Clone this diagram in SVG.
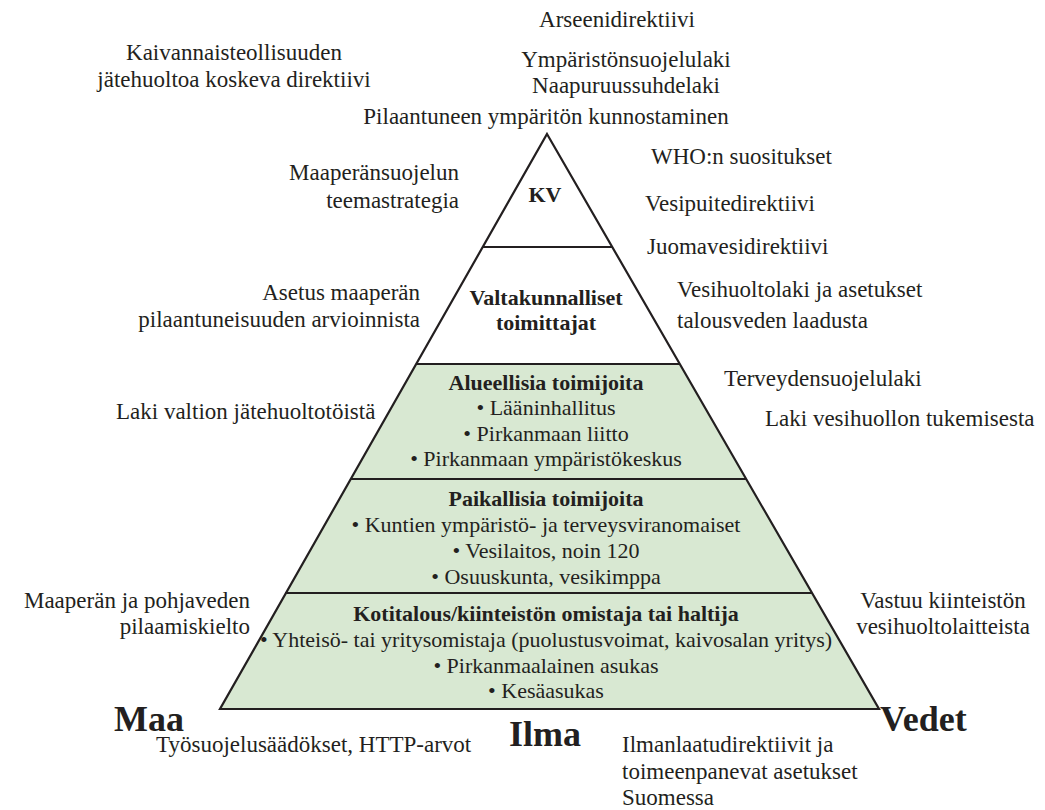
<svg xmlns="http://www.w3.org/2000/svg" width="1045" height="810" viewBox="0 0 1045 810">
<style>
text{font-family:"Liberation Serif","Times New Roman",serif;fill:#231f20}
.l{font-size:23px}
.m{text-anchor:middle}
.e{text-anchor:end}
.b{font-weight:bold}
.i{font-size:22px}
.big{font-size:36px;font-weight:bold}
.edge{stroke:#231f20;stroke-width:2.2;fill:none}
</style>
<rect width="1045" height="810" fill="#ffffff"/>
<g id="pyramid">
<polygon points="416,364 680,364 879,709 220,709" fill="#d8e8d2"/>
<polygon class="edge" points="547,134 879,709 220,709"/>
</g>
<g id="connectors">
<line class="edge" x1="482" y1="247" x2="612" y2="247"/>
<line class="edge" x1="416" y1="364" x2="680" y2="364"/>
<line class="edge" x1="350" y1="479" x2="746" y2="479"/>
<line class="edge" x1="285" y1="593" x2="812" y2="593"/>
</g>
<g id="level-kv"><text class="i m b" x="545" y="202">KV</text></g>
<g id="level-valtakunnalliset">
<text class="i m b" x="546" y="305">Valtakunnalliset</text>
<text class="i m b" x="546" y="330">toimittajat</text>
</g>
<g id="level-alueellisia">
<text class="i m b" x="546" y="390">Alueellisia toimijoita</text>
<text class="i m" x="546" y="415">• Lääninhallitus</text>
<text class="i m" x="546" y="441">• Pirkanmaan liitto</text>
<text class="i m" x="546" y="466">• Pirkanmaan ympäristökeskus</text>
</g>
<g id="level-paikallisia">
<text class="i m b" x="546" y="506">Paikallisia toimijoita</text>
<text class="i m" x="546" y="532">• Kuntien ympäristö- ja terveysviranomaiset</text>
<text class="i m" x="546" y="558">• Vesilaitos, noin 120</text>
<text class="i m" x="546" y="584">• Osuuskunta, vesikimppa</text>
</g>
<g id="level-kotitalous">
<text class="i m b" x="546" y="621">Kotitalous/kiinteistön omistaja tai haltija</text>
<text class="i m" x="546" y="647">• Yhteisö- tai yritysomistaja (puolustusvoimat, kaivosalan yritys)</text>
<text class="i m" x="546" y="673">• Pirkanmaalainen asukas</text>
<text class="i m" x="546" y="698">• Kesäasukas</text>
</g>
<g id="label-maa"><text class="big" x="114" y="731">Maa</text></g>
<g id="label-vedet"><text class="big" x="880" y="731">Vedet</text></g>
<g id="label-ilma"><text class="big m" x="545" y="746">Ilma</text></g>
<g id="laws">
<text class="l m" x="617" y="27">Arseenidirektiivi</text>
<text class="l m" x="234" y="60">Kaivannaisteollisuuden</text>
<text class="l m" x="234" y="87">jätehuoltoa koskeva direktiivi</text>
<text class="l m" x="626" y="67">Ympäristönsuojelulaki</text>
<text class="l m" x="626" y="93">Naapuruussuhdelaki</text>
<text class="l m" x="546" y="124">Pilaantuneen ympäritön kunnostaminen</text>
<text class="l e" x="459" y="180">Maaperänsuojelun</text>
<text class="l e" x="459" y="208">teemastrategia</text>
<text class="l" x="651" y="164">WHO:n suositukset</text>
<text class="l" x="645" y="211">Vesipuitedirektiivi</text>
<text class="l" x="647" y="254">Juomavesidirektiivi</text>
<text class="l e" x="420" y="300">Asetus maaperän</text>
<text class="l e" x="420" y="327">pilaantuneisuuden arvioinnista</text>
<text class="l" x="677" y="297">Vesihuoltolaki ja asetukset</text>
<text class="l" x="677" y="328">talousveden laadusta</text>
<text class="l" x="724" y="386">Terveydensuojelulaki</text>
<text class="l" x="765" y="426">Laki vesihuollon tukemisesta</text>
<text class="l" x="116" y="419">Laki valtion jätehuoltotöistä</text>
<text class="l e" x="250" y="608">Maaperän ja pohjaveden</text>
<text class="l e" x="250" y="634">pilaamiskielto</text>
<text class="l m" x="943" y="608">Vastuu kiinteistön</text>
<text class="l m" x="943" y="634">vesihuoltolaitteista</text>
<text class="l" x="156" y="752">Työsuojelusäädökset, HTTP-arvot</text>
<text class="l" x="622" y="752">Ilmanlaatudirektiivit ja</text>
<text class="l" x="622" y="779">toimeenpanevat asetukset</text>
<text class="l" x="622" y="805">Suomessa</text>
</g>
</svg>
